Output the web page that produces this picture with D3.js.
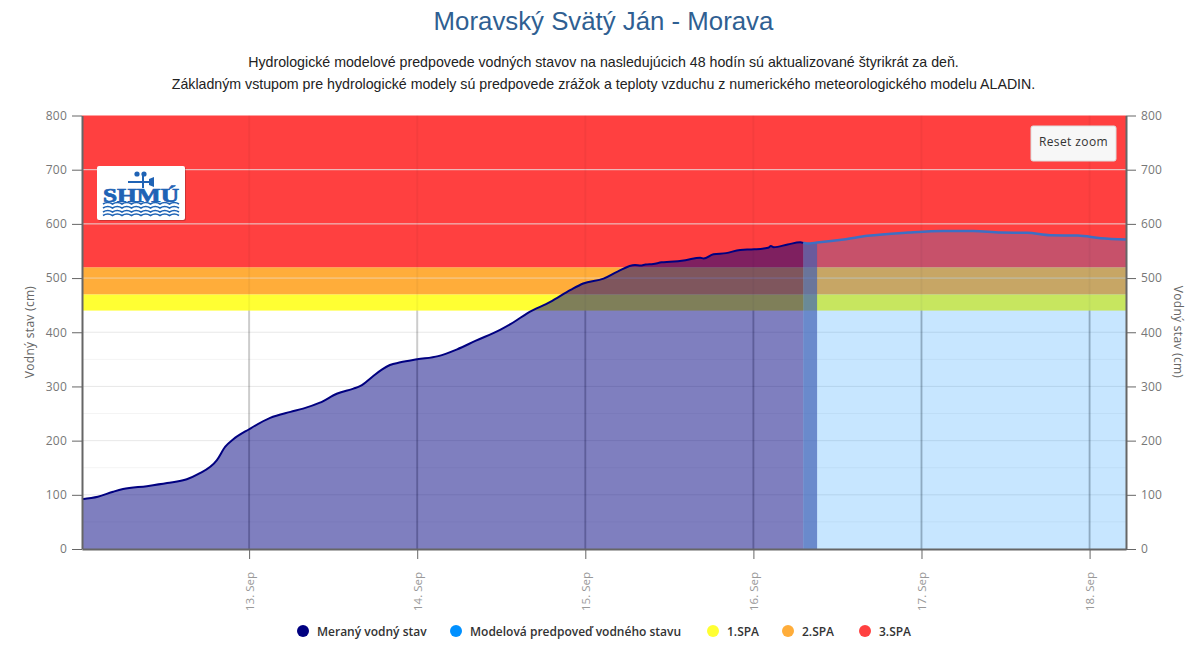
<!DOCTYPE html>
<html>
<head>
<meta charset="utf-8">
<script src="https://cdn.jsdelivr.net/npm/d3@7"></script>
<style>
  html, body { margin: 0; padding: 0; background: #fff; }
  svg { display: block; }
  .axis text { font-family: "Open Sans", sans-serif; font-size: 12px; fill: #777; letter-spacing: 0.2px; }
  .axis path, .axis line { stroke: #666; }
</style>
</head>
<body>
<div id="chart"></div>
<script>
var titleText = "Moravský Svätý Ján - Morava";
var subtitleLines = [
  "Hydrologické modelové predpovede vodných stavov na nasledujúcich 48 hodín sú aktualizované štyrikrát za deň.",
  "Základným vstupom pre hydrologické modely sú predpovede zrážok a teploty vzduchu z numerického meteorologického modelu ALADIN."
];

// hours since 12 Sep 00:00, levels in cm
var measuredHours = [0.14, 2.4, 4.6, 6, 9.4, 12.3, 15.1, 16.7, 19.4, 20.6, 21.7, 24, 27, 29.9, 31.7, 34.1, 36.6, 38.9, 39.9, 41.6, 43, 44.1, 45.6, 48, 51, 53.7, 56.3, 59.9, 61.7, 63.7, 67, 69.9, 71.7, 74.6, 76.6, 79.1, 79.9, 80.6, 81.7, 82.9, 84.1, 86.3, 88.4, 88.9, 90.3, 92.1, 94.1, 96.1, 98.1, 98.5, 98.9, 100.9, 102.7, 103.1];
var measuredLevels = [92, 96.5, 105.7, 110.6, 116, 121.6, 128.6, 138, 164, 188.8, 202, 221, 242, 253, 259, 270, 287, 296, 301, 318, 331.5, 339.5, 344.5, 350, 356, 368.5, 384, 405, 418, 435, 456, 478, 490, 499, 512, 524, 523, 525, 526, 529, 530, 533, 537.5, 536, 544, 546, 552, 553, 556, 559, 557, 562, 566, 565];
var forecastHours = [103.1, 103.7, 105.1, 108.9, 112.3, 118.1, 123.1, 127.4, 131.3, 135.1, 138.4, 142.3, 145.6, 149.2];
var forecastLevels = [565, 564, 565.5, 571, 578, 584, 587, 587, 584, 583.5, 579, 578.5, 573.5, 571];
var overlapEndHour = 105.1;

var zoneNames = ["1.SPA", "2.SPA", "3.SPA"];
var zoneFrom = [440, 470, 520];
var zoneTo = [470, 520, 800];
var zoneColors = ["#ffff33", "#ffad3a", "#ff4040"];

var dayTicks = [13, 14, 15, 16, 17, 18];
var levelTicks = [0, 100, 200, 300, 400, 500, 600, 700, 800];
var minorTicks = [50, 150, 250, 350, 450];

var legendNames = ["Meraný vodný stav", "Modelová predpoveď vodného stavu"].concat(zoneNames);
var legendColors = ["#000080", "#0090ff"].concat(zoneColors);
var legendX = [303, 456, 713, 788, 865];

var width = 1200, height = 667;
var left = 82, right = 1126, top_ = 115.5, bottom = 549;

function hourToDate(h) { return new Date(Date.UTC(2024, 8, 12) + h * 3600000); }
function dayToDate(d) { return hourToDate((d - 12) * 24); }

var x = d3.scaleUtc().domain([hourToDate(0.14), hourToDate(149.2)]).range([left, right]);
var y = d3.scaleLinear().domain([0, 800]).range([bottom, top_]);

var svg = d3.select("#chart").append("svg").attr("width", width).attr("height", height);

svg.append("text").attr("x", 603.5).attr("y", 30).attr("text-anchor", "middle")
  .style("font-family", "'Liberation Sans', sans-serif").style("font-size", "25.8px").style("fill", "#2f5f92")
  .text(titleText);
svg.selectAll(".sub").data(subtitleLines).enter().append("text").attr("class", "sub")
  .attr("x", 603.5).attr("y", (d, i) => 67 + i * 22).attr("text-anchor", "middle")
  .style("font-family", "'Liberation Sans', sans-serif").style("font-size", "14.2px").style("fill", "#222")
  .text(d => d);

// minor grid sits below the danger bands
svg.selectAll(".minor").data(minorTicks).enter().append("line").attr("class", "minor")
  .attr("x1", left).attr("x2", right).attr("y1", d => y(d)).attr("y2", d => y(d))
  .attr("stroke", "#f4f4f4");

svg.selectAll(".zone").data(zoneNames).enter().append("rect").attr("class", "zone")
  .attr("x", left).attr("width", right - left)
  .attr("y", (d, i) => y(zoneTo[i]))
  .attr("height", (d, i) => y(zoneFrom[i]) - y(zoneTo[i]))
  .attr("fill", (d, i) => zoneColors[i]);

// grid: day lines are strong below the first danger band, barely there inside the bands
svg.selectAll(".hgrid").data(levelTicks.slice(1, -1)).enter().append("line").attr("class", "hgrid")
  .attr("x1", left).attr("x2", right).attr("y1", d => y(d)).attr("y2", d => y(d))
  .attr("stroke", "#e6e6e6").attr("stroke-opacity", d => d == 500 ? 0.6 : 0.9);
svg.selectAll(".vgrid").data(dayTicks).enter().append("line").attr("class", "vgrid")
  .attr("x1", d => x(dayToDate(d))).attr("x2", d => x(dayToDate(d)))
  .attr("y1", y(440)).attr("y2", bottom)
  .attr("stroke", "#000").attr("stroke-opacity", 0.2).attr("stroke-width", 2);
svg.selectAll(".vgridTop").data(dayTicks).enter().append("line").attr("class", "vgridTop")
  .attr("x1", d => x(dayToDate(d))).attr("x2", d => x(dayToDate(d)))
  .attr("y1", top_).attr("y2", y(440))
  .attr("stroke", "#000").attr("stroke-opacity", 0.04).attr("stroke-width", 2);

var measured = measuredHours.map((h, i) => ({ t: hourToDate(h), v: measuredLevels[i] }));
var forecast = forecastHours.map((h, i) => ({ h: h, t: hourToDate(h), v: forecastLevels[i] }));

var area = d3.area().x(d => x(d.t)).y0(bottom).y1(d => y(d.v)).curve(d3.curveMonotoneX);
var line = d3.line().x(d => x(d.t)).y(d => y(d.v)).curve(d3.curveMonotoneX);

svg.append("path").datum(measured).attr("d", area).attr("fill", "#000080").attr("fill-opacity", 0.5);
svg.append("path").datum(forecast.filter(d => d.h >= overlapEndHour)).attr("d", area)
  .attr("fill", "#008cff").attr("fill-opacity", 0.22);
svg.append("path").datum(forecast.filter(d => d.h <= overlapEndHour)).attr("d", area)
  .attr("fill", "#3863bb").attr("fill-opacity", 0.75);

// day lines stay visible through the areas, only where an area covers them
function coveredTop(day) {
  if (day > 16) return y(440);
  var i = d3.bisector(d => d.t).left(measured, dayToDate(day));
  return Math.max(y(measured[i].v), y(440));
}
svg.selectAll(".vgridOver").data(dayTicks).enter().append("line").attr("class", "vgridOver")
  .attr("x1", d => x(dayToDate(d))).attr("x2", d => x(dayToDate(d)))
  .attr("y1", coveredTop).attr("y2", bottom)
  .attr("stroke", "#000").attr("stroke-opacity", d => d > 16 ? 0.1 : 0.08).attr("stroke-width", 1.5);

svg.append("path").datum(forecast).attr("d", line).attr("fill", "none")
  .attr("stroke", "#3d6fc4").attr("stroke-width", 2.5);
svg.append("path").datum(measured).attr("d", line).attr("fill", "none")
  .attr("stroke", "#000080").attr("stroke-width", 2);

// axes
var yLeft = d3.axisLeft(y).tickValues(levelTicks).tickSize(10).tickSizeOuter(0).tickPadding(5);
var yRight = d3.axisRight(y).tickValues(levelTicks).tickSize(10).tickSizeOuter(0).tickPadding(5);
var xAxis = d3.axisBottom(x).tickValues(dayTicks.map(dayToDate))
  .tickSize(10).tickSizeOuter(0).tickFormat(d3.utcFormat("%d. Sep"));

svg.append("g").attr("class", "axis").attr("transform", "translate(" + left + ",0)").call(yLeft);
svg.append("g").attr("class", "axis").attr("transform", "translate(" + right + ",0)").call(yRight);
var gx = svg.append("g").attr("class", "axis").attr("transform", "translate(0," + bottom + ")").call(xAxis);
gx.selectAll("text").attr("transform", "rotate(-90)").attr("text-anchor", "end")
  .attr("x", -23).attr("y", 0).attr("dy", "0.35em").style("fill", "#999")
  .style("font-size", "11.5px").style("letter-spacing", "0");
svg.selectAll(".axis path").attr("stroke-width", 2);

svg.append("text").attr("transform", "translate(34,332) rotate(-90)").attr("text-anchor", "middle")
  .style("font-family", "'Open Sans', sans-serif").style("font-size", "12px").style("letter-spacing", "0.3px").style("fill", "#666")
  .text("Vodný stav (cm)");
svg.append("text").attr("transform", "translate(1174,332) rotate(90)").attr("text-anchor", "middle")
  .style("font-family", "'Open Sans', sans-serif").style("font-size", "12px").style("letter-spacing", "0.3px").style("fill", "#666")
  .text("Vodný stav (cm)");

// logo
var logo = svg.append("g").attr("transform", "translate(97,166)");
logo.append("rect").attr("x", 1).attr("y", 1).attr("width", 88).attr("height", 54).attr("rx", 2).attr("fill", "#000").attr("opacity", 0.2);
logo.append("rect").attr("width", 88).attr("height", 54).attr("rx", 2).attr("fill", "#fff");
logo.append("text").attr("x", 44).attr("y", 36).attr("text-anchor", "middle")
  .style("font-family", "'Liberation Serif', serif").style("font-weight", "bold").style("font-size", "18px")
  .attr("textLength", 76).attr("lengthAdjust", "spacingAndGlyphs")
  .style("fill", "#1f63b5").style("stroke", "#1f63b5").style("stroke-width", "0.7px").text("SHMÚ");
logo.append("path").attr("d", "M31 16H53M46 10V22").attr("stroke", "#1f63b5").attr("stroke-width", 2).attr("fill", "none");
logo.append("path").attr("d", "M52 13L57 11V21L52 19Z").attr("fill", "#1f63b5");
logo.append("circle").attr("cx", 40).attr("cy", 8).attr("r", 2.6).attr("fill", "#1f63b5");
logo.append("circle").attr("cx", 47).attr("cy", 8).attr("r", 2.6).attr("fill", "#1f63b5");
[38, 42, 46, 49.5].forEach(function (wy) {
  var d = "M6 " + wy;
  for (var k = 0; k < 8; k++) d += " q4.75 -3 9.5 0";
  logo.append("path").attr("d", d).attr("stroke", "#1f63b5").attr("stroke-width", 1.6).attr("fill", "none");
});

// reset zoom button
var btn = svg.append("g").attr("transform", "translate(1031,126)");
btn.append("rect").attr("width", 85).attr("height", 35).attr("rx", 2).attr("fill", "#f7f7f7").attr("stroke", "#ddd");
btn.append("text").attr("x", 42.5).attr("y", 20).attr("text-anchor", "middle")
  .style("font-family", "'Open Sans', sans-serif").style("font-size", "12px").style("letter-spacing", "0.4px").style("fill", "#333").text("Reset zoom");

// legend
var leg = svg.selectAll(".leg").data(legendNames).enter().append("g").attr("class", "leg")
  .attr("transform", (d, i) => "translate(" + legendX[i] + ",631)");
leg.append("circle").attr("r", 6).attr("fill", (d, i) => legendColors[i]);
leg.append("text").attr("x", 14).attr("y", 4.5)
  .style("font-family", "'Open Sans', sans-serif").style("font-size", "12px").style("font-weight", "600").style("fill", "#333")
  .text(d => d);
</script>
</body>
</html>
